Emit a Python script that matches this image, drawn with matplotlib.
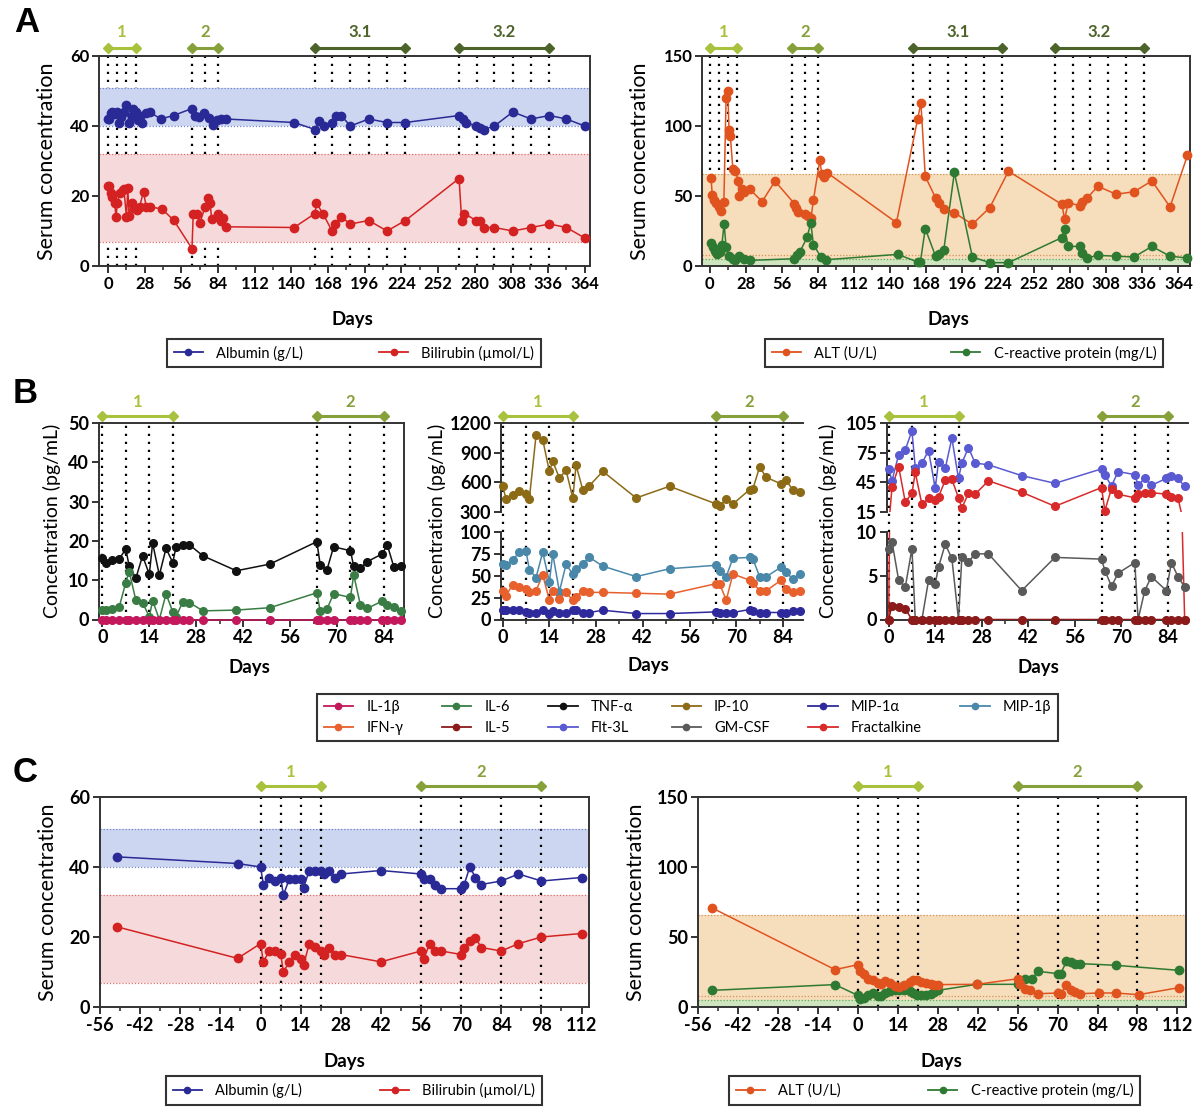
import matplotlib
matplotlib.use('Agg')
import matplotlib.pyplot as plt
import numpy as np
from matplotlib.transforms import blended_transform_factory
from matplotlib.ticker import MultipleLocator, FixedLocator
from matplotlib.lines import Line2D

plt.rcParams['font.family'] = ['Lato', 'DejaVu Sans']
plt.rcParams['font.weight'] = 'bold'
plt.rcParams['axes.unicode_minus'] = False

# ------------------------------------------------------------------ data
# Panel A (days 0-364)
a_alb_days = [0, 1, 2, 3, 5, 7, 8, 10, 12, 14, 16, 18, 19, 21, 23, 24, 26, 29, 32, 40, 50, 64, 66, 69, 73, 77, 80,
              83, 86, 90, 142, 158, 161, 165, 171, 174, 178, 185, 199, 213, 227, 268, 271, 273, 281, 284, 287, 295,
              309, 323, 337, 350, 364]
a_alb = [42, 42, 43.6, 44, 43.4, 44, 40.8, 42.7, 44, 46, 40.8, 43, 45, 44, 41.7, 43, 41, 43.6, 44, 42, 43, 45, 43,
         42.5, 43.6, 42.2, 40.3, 41.7, 42, 42, 41, 39, 41.5, 40, 41, 43, 43, 40, 42, 41, 41, 43, 42, 41, 40, 39.3,
         39, 40, 44, 42, 43, 42, 40]
a_bil_days = [0, 1, 2, 3, 5, 6, 7, 9, 11, 12, 14, 15, 16, 18, 20, 22, 24, 27, 29, 32, 41, 50, 64, 65, 68, 70, 74,
              76, 78, 79, 84, 86, 88, 90, 142, 158, 159, 164, 171, 173, 178, 185, 199, 213, 227, 268, 270, 272,
              281, 284, 287, 295, 309, 323, 337, 350, 364]
a_bil = [23, 23, 21, 19.8, 17.9, 14, 18, 21, 21.7, 22, 14, 22.2, 14.3, 17.9, 16.6, 16, 17, 21.2, 17, 16.9, 16.3,
         13.1, 5, 15, 15, 12.2, 16.9, 19.3, 17.9, 13.3, 15, 13, 13.6, 11.2, 11, 15, 18, 15, 10, 12, 14, 12, 13, 10,
         13, 25, 13, 15, 13, 13, 11, 11, 10, 11, 12, 11, 8]
a_alt_days = [1, 2, 3.5, 5, 7, 9, 11, 12.7, 14, 15, 16, 18, 20, 22, 23, 25, 26.5, 31, 40.7, 50.7, 65.7, 67, 68.7,
              73.7, 76.6, 78.7, 80.5, 85.5, 87, 88.4, 91.4, 145, 161.5, 164, 167.4, 175.4, 177.7, 181.8, 190, 204,
              217.5, 232, 273.5, 275.6, 278.5, 287.4, 289.4, 293.3, 301.5, 315.4, 329.5, 343.4, 357.5, 371]
a_alt = [63, 50.5, 47.5, 45, 42, 39, 46, 120, 125, 97, 93, 69, 68, 61, 50, 55, 53, 55, 46, 60.6, 44.6, 41.7, 38.6,
         37.4, 36, 34.6, 47, 75.6, 66, 63.7, 66.5, 31, 105, 116.6, 64, 48.7, 45, 41, 38, 29.8, 41.7, 67.7, 44, 33.4,
         45.3, 43, 45.8, 48.7, 57, 51.3, 53, 60.8, 42.2, 79]
a_crp_days = [1, 2.4, 3.8, 6, 8, 9.4, 11.2, 12.7, 14.7, 17.7, 19.7, 23, 26.5, 31, 65.7, 67.8, 70, 75.7, 78.5, 80.5,
              86.4, 90.5, 145.9, 161.5, 163.6, 167.4, 175.4, 177.7, 181.8, 190, 204, 217.5, 232, 273.5, 275.6,
              278.5, 287.4, 289.4, 293.3, 301.5, 315.4, 329.5, 343.4, 357.5, 371]
a_crp = [16.7, 13.6, 10.7, 8.3, 10, 14.8, 30.3, 13.6, 7, 5.2, 4.5, 7, 5.2, 4, 5.2, 7.6, 10, 20.7, 31, 15.3, 6.4,
         4.5, 8.3, 2.9, 2.9, 26.7, 7, 8.8, 11.7, 66.8, 6.4, 2.4, 2.4, 20.3, 26.2, 14, 14, 9.3, 5.7, 7.6, 7, 6.4,
         14, 7, 5.7]
a_lines = [0, 7, 14, 21, 64, 74, 84, 158, 171, 185, 199, 213, 227, 268, 282, 295, 309, 323, 337]
a_periods = ['1', '2', '3.1', '3.2']
a_period_span = [(0, 21), (64, 84), (158, 227), (268, 337)]

# Panel B (days 0-89)
b_days = [0, 1, 3, 5, 7, 8, 10, 12, 14, 15, 17, 19, 21, 22, 24, 26, 30, 40, 50, 64, 65, 67, 69, 74, 75, 77, 79,
          83.5, 85, 87, 89]
b_il1b = [0] * 31
b_il6 = [2.4, 2.4, 2.6, 3.1, 9.4, 12.2, 4.9, 4.3, 0.7, 4.8, 0, 6.5, 2, 0.7, 4.5, 4.3, 2.2, 2.4, 3, 6.8, 2.1, 2.6,
         6.6, 5.6, 11.3, 3.7, 2.8, 4.7, 3.7, 3.2, 2.1]
b_tnfa = [15.6, 14.5, 15.1, 15.4, 17.9, 13.6, 10.5, 16.2, 11.5, 19.4, 11.3, 18.1, 14.5, 18.5, 19, 19, 16.2, 12.4,
          14.1, 19.8, 13.9, 12.6, 18.5, 17.5, 13.6, 13, 14.7, 16.7, 19, 13.3, 13.7]
b_ip10 = [560, 435, 475, 509, 482, 435, 1075, 1031, 711, 812, 644, 721, 442, 772, 526, 566, 711, 442, 560, 381, 357,
          435, 381, 526, 536, 755, 650, 583, 620, 519, 502]
b_mip1b = [63, 62, 68, 77, 78, 57, 48, 77, 43, 75, 32, 63, 52, 58, 64, 71, 61, 49, 58, 62, 56, 49, 70, 71, 69, 49,
           49, 60, 54, 46, 52]
b_ifng = [33, 27, 40, 37, 35, 32, 33, 51, 22, 33, 24, 31, 22, 26, 33, 31, 31, 30, 29, 41, 41, 22, 52, 45, 42, 33,
          33, 45, 35, 32, 33]
b_mip1a = [11, 10.6, 11.4, 10.6, 8.7, 8, 8, 11.4, 6.8, 9.9, 8, 8, 11.4, 10.6, 8, 8, 10.6, 6.8, 6.8, 8.7, 8, 8, 8,
           11.4, 9.9, 8, 8, 8, 8, 9.5, 9.9]
b_flt3l = [58.6, 46.6, 73, 78, 97, 60, 64.5, 77, 39, 66, 59, 89.5, 49, 64.5, 80, 64.5, 62.7, 51.8, 44, 58.6, 52.4,
           41.4, 55.9, 52.8, 42, 49, 42, 49, 51.8, 49, 40.8]
b_fract = [0, 40, 61, 25, 34, 55, 22.6, 28.7, 27, 30.5, 47, 48, 29.4, 19, 34, 33, 46.6, 35, 20.8, 39.7, 16.4, 38.7,
           32.9, 29.4, 33, 34.6, 34.6, 33, 30.5, 28.7, 0]
b_gmcsf = [8.1, 8.9, 4.5, 3.7, 8.1, 0, 0, 4.5, 4.1, 6, 8.6, 7, 0, 7.1, 6.6, 7.5, 7.5, 3.3, 7.1, 6.9, 5.6, 3.8, 5.3,
           6.5, 0, 3.3, 4.9, 3.3, 6.5, 4.9, 3.7]
b_il5 = [0, 1.6, 1.4, 1.2] + [0] * 27
b_lines = [0, 7, 14, 21, 64, 74, 84]
b_periods = ['1', '2']
b_period_span = [(0, 21), (64, 84)]

# Panel C (days -56..112)
c_days = [-50, -8, 0, 1, 3, 5, 7, 8, 10, 12, 14, 15, 17, 19, 21, 22, 24, 26, 28, 42, 56, 57, 59, 61, 63, 70, 71, 73,
          75, 77, 84, 90, 98, 112]
c_alb = [42.9, 41, 40, 35, 37, 36, 37, 32, 36.5, 36.5, 36.5, 34, 39, 39, 39, 38, 39, 37, 38, 39, 38, 36.5, 36.5, 35,
         33.8, 33.8, 34.8, 40, 37, 35, 36, 38, 36, 37]
c_bil = [22.9, 13.9, 18.1, 12.9, 16, 16, 15.2, 10, 12.9, 15, 13.8, 11.9, 18.1, 17.1, 16, 15, 17, 15, 15, 12.9, 16,
         13.8, 18.1, 16, 16, 15, 17, 18.9, 19.8, 17, 16, 18.1, 20, 21]
c_alt_days = [-51, -8, 0, 0.6, 2, 3.5, 5.2, 6.9, 8.2, 9.7, 11.2, 13.2, 14.6, 16.2, 18.2, 19.2, 20.8, 22.2, 23.9,
              25.5, 26.8, 28.1, 41.8, 56.1, 56.8, 58.5, 60.5, 63.2, 70.1, 71.1, 73.1, 74.7, 76.1, 77.7, 84.4, 90.3,
              98.4, 112.4]
c_alt = [70.7, 26.7, 30.2, 25.5, 23.8, 20.2, 19, 17.4, 16.7, 18.3, 17.1, 14.8, 14.3, 15.5, 17.9, 19, 19, 17.9, 17.1,
         16.2, 16, 16, 16.2, 20.2, 16.2, 13.1, 11.9, 9.5, 10, 9.5, 15.5, 12.4, 10.7, 9.5, 10, 10, 8.8, 13.8]
c_crp_days = [-51, -8, 0, 0.6, 2, 3.5, 5.2, 6.9, 8.2, 9.7, 11.2, 13.2, 14.6, 16.2, 18.2, 19.2, 20.8, 22.2, 23.9,
              25.5, 26.8, 28.1, 41.8, 56.1, 58.5, 61, 63.2, 70.1, 71.1, 73.1, 74.7, 76.1, 77.7, 90.3, 112.4]
c_crp = [11.9, 16, 8.3, 6, 6.7, 8.3, 10.2, 7.9, 7.9, 10.2, 11.4, 11.9, 12.4, 11.9, 11.4, 10.2, 8.3, 8.3, 8.3, 9.5,
         10.7, 11.9, 16.2, 16.2, 19.8, 20.2, 25.5, 23.8, 23.8, 32.6, 32.1, 31, 31, 29.8, 26.2]
c_lines = [0, 7, 14, 21, 56, 70, 84, 98]
c_periods = ['1', '2']
c_period_span = [(0, 21), (56, 98)]

# ------------------------------------------------------------------ styling
C_ALB = '#2a2a96'
C_BIL = '#d42222'
C_ALT = '#e0531f'
C_CRP = '#2f7a32'
C_IL1B = '#c4185c'
C_IL6 = '#3a7d44'
C_TNF = '#111111'
C_IP10 = '#8c6a16'
C_MIP1A = '#2e2a9c'
C_MIP1B = '#4a88aa'
C_IFNG = '#e8602c'
C_IL5 = '#8b1a1a'
C_FLT = '#5a5ad2'
C_GM = '#5a5a5a'
C_FRAC = '#d82a2a'
P_COL = {'1': '#a8c23e', '2': '#86a03a', '3.1': '#4c6329', '3.2': '#4c6329'}
SPC = '#333333'

W, H = 1194, 1108
fig = plt.figure(figsize=(W / 100, H / 100), dpi=100)


def add_ax(l, r, t, b):
    return fig.add_axes([l / W, 1 - b / H, (r - l) / W, (b - t) / H])


def style_ax(ax, xmaj, xmin, lsize):
    for s in ax.spines.values():
        s.set_linewidth(1.4)
        s.set_color(SPC)
    ax.xaxis.set_major_locator(MultipleLocator(xmaj))
    ax.xaxis.set_minor_locator(MultipleLocator(xmin))
    ax.tick_params(which='major', length=5, width=1.4, color=SPC, labelsize=lsize, pad=2)
    ax.tick_params(which='minor', length=3, width=1.2, color=SPC)
    ax.tick_params(axis='y', which='minor', left=False)
    ax.patch.set_alpha(0)


def series(ax, x, y, color, ms, ylim=None, clip=False, z=3):
    x = np.asarray(x, float)
    y = np.asarray(y, float)
    ax.plot(x, y, '-', color=color, lw=1.1, zorder=z, clip_on=clip)
    if ylim is None:
        m = np.ones(len(y), bool)
    else:
        m = (y >= ylim[0]) & (y <= ylim[1])
    ax.plot(x[m], y[m], 'o', ls='none', color=color, ms=ms, zorder=z + 0.05, clip_on=False)


def band(ax, lo, hi, fill, edge, z=1.5, fill_lo=None):
    ax.axhspan(lo if fill_lo is None else fill_lo, hi, facecolor=fill, edgecolor='none', zorder=z)
    for v in (lo, hi):
        ax.axhline(v, color=edge, lw=0.9, ls=(0, (1, 1.5)), zorder=z + 0.1)


def vlines(ax, days, z, ext=0.0):
    for d in days:
        ax.axvline(d, ymin=-ext, ymax=1, color='black', lw=1.6, ls=(0, (1, 2.6)), zorder=z, clip_on=False)


def brackets(ax, names, spans, yb, yl, fs):
    tr = blended_transform_factory(ax.transData, fig.transFigure)
    for n, (x0, x1) in zip(names, spans):
        c = P_COL[n]
        ax.plot([x0, x1], [yb, yb], color=c, lw=2.2, marker='D', ms=5, transform=tr, clip_on=False)
        ax.text((x0 + x1) / 2, yl, n, transform=tr, ha='center', va='center', color=c,
                fontsize=fs, fontweight='bold')


def ylabel(x, y, s, fs):
    fig.text(x / W, 1 - y / H, s, rotation=90, ha='center', va='center', fontsize=fs, fontweight='normal')


def xlabel(x, y, s, fs=13.5):
    fig.text(x / W, 1 - y / H, s, ha='center', va='center', fontsize=fs, fontweight='bold')


def legend(ax, items, l, r, t, b, ncol, fs=10.5):
    hs = [Line2D([], [], color=c, marker='o', ms=4.5, lw=1.3) for _, c in items]
    leg = ax.legend(hs, [s for s, _ in items], loc='center', ncol=ncol, mode='expand',
                    bbox_to_anchor=(l / W, 1 - b / H, (r - l) / W, (b - t) / H), bbox_transform=fig.transFigure,
                    frameon=True, fancybox=False, edgecolor='black', handlelength=2.0, handletextpad=0.9,
                    borderpad=0.45, labelspacing=0.45, prop={'size': fs, 'weight': 'normal'})
    leg.get_frame().set_linewidth(1.5)
    return leg


# ------------------------------------------------------------------ panel A
axA1 = add_ax(99, 590, 56, 266)
axA1.set_xlim(-7, 368)
axA1.set_ylim(0, 60)
style_ax(axA1, 28, 14, 12)
axA1.yaxis.set_major_locator(MultipleLocator(20))
vlines(axA1, a_lines, 1)
band(axA1, 40, 51, '#cdd6f1', '#7386cc')
band(axA1, 7, 32, '#f6dadb', '#e07070')
series(axA1, a_alb_days, a_alb, C_ALB, 6)
series(axA1, a_bil_days, a_bil, C_BIL, 6)
brackets(axA1, a_periods, a_period_span, 1 - 47.5 / H, 1 - 32 / H, 12)
ylabel(47, 161, 'Serum concentration', 15.5)
xlabel(352, 320, 'Days')
legend(axA1, [('Albumin (g/L)', C_ALB), ('Bilirubin (\u00b5mol/L)', C_BIL)], 160, 548, 338, 368, 2)

axA2 = add_ax(702, 1190, 56, 266)
axA2.set_xlim(-6, 373)
axA2.set_ylim(0, 150)
style_ax(axA2, 28, 14, 12)
axA2.yaxis.set_major_locator(MultipleLocator(50))
vlines(axA2, a_lines, 1)
band(axA2, 8, 66, '#f6ddbb', '#d0955a', fill_lo=0)
band(axA2, 0, 5, '#cfe5c0', '#6aaa5a', z=1.7)
series(axA2, a_alt_days, a_alt, C_ALT, 6)
series(axA2, a_crp_days, a_crp, C_CRP, 6)
brackets(axA2, a_periods, a_period_span, 1 - 47.5 / H, 1 - 32 / H, 12)
ylabel(640, 161, 'Serum concentration', 15.5)
xlabel(948, 320, 'Days')
legend(axA2, [('ALT (U/L)', C_ALT), ('C-reactive protein (mg/L)', C_CRP)], 758, 1170, 338, 368, 2)

# ------------------------------------------------------------------ panel B
BT, BB = 423, 619.5
GAP_T, GAP_B = 512, 532

axB1 = add_ax(99, 404, BT, BB)
axB1.set_xlim(-1, 90)
axB1.set_ylim(0, 50)
style_ax(axB1, 14, 7, 13)
axB1.yaxis.set_major_locator(MultipleLocator(10))
vlines(axB1, b_lines, 1)
series(axB1, b_days, b_tnfa, C_TNF, 5.5)
series(axB1, b_days, b_il6, C_IL6, 5.5)
series(axB1, b_days, b_il1b, C_IL1B, 5.5)
brackets(axB1, b_periods, b_period_span, 1 - 416 / H, 1 - 402 / H, 12)
ylabel(52, 521, 'Concentration (pg/mL)', 14)
xlabel(249, 668, 'Days')


def broken(l, r, xl, top_lim, top_ticks, bot_lim, bot_ticks, top_series, bot_series):
    axt = add_ax(l, r, BT, GAP_T)
    axb = add_ax(l, r, GAP_B, BB)
    for ax in (axt, axb):
        ax.set_xlim(*xl)
        style_ax(ax, 14, 7, 13)
        ax.spines['right'].set_visible(False)
    axt.set_ylim(*top_lim)
    axb.set_ylim(*bot_lim)
    axt.yaxis.set_major_locator(FixedLocator(top_ticks))
    axb.yaxis.set_major_locator(FixedLocator(bot_ticks))
    axt.spines['bottom'].set_visible(False)
    axt.tick_params(axis='x', which='both', bottom=False, labelbottom=False)
    axb.spines['top'].set_visible(False)
    ext = (GAP_B - GAP_T) / (GAP_T - BT)
    vlines(axt, b_lines, 1, ext=ext)
    vlines(axb, b_lines, 1)
    for ys, c in top_series + bot_series:
        series(axt, b_days, ys, c, 5.5, ylim=top_lim, clip=True)
        series(axb, b_days, ys, c, 5.5, ylim=bot_lim, clip=True)
    return axt, axb


axB2t, axB2b = broken(501, 803, (-0.5, 90), (300, 1200), [300, 600, 900, 1200], (0, 100), [0, 25, 50, 75, 100],
                      [(b_ip10, C_IP10)],
                      [(b_mip1b, C_MIP1B), (b_ifng, C_IFNG), (b_mip1a, C_MIP1A)])
brackets(axB2t, b_periods, b_period_span, 1 - 416 / H, 1 - 402 / H, 12)
ylabel(437, 521, 'Concentration (pg/mL)', 14)
xlabel(648, 666, 'Days')

axB3t, axB3b = broken(887, 1188, (-0.5, 90), (15, 105), [15, 45, 75, 105], (0, 10), [0, 5, 10],
                      [(b_flt3l, C_FLT), (b_fract, C_FRAC)],
                      [(b_gmcsf, C_GM), (b_il5, C_IL5)])
brackets(axB3t, b_periods, b_period_span, 1 - 416 / H, 1 - 402 / H, 12)
ylabel(828, 521, 'Concentration (pg/mL)', 14)
xlabel(1038, 667, 'Days')

b_items = [('IL-1\u03b2', C_IL1B), ('IFN-\u03b3', C_IFNG), ('IL-6', C_IL6), ('IL-5', C_IL5),
           ('TNF-\u03b1', C_TNF), ('Flt-3L', C_FLT), ('IP-10', C_IP10), ('GM-CSF', C_GM),
           ('MIP-1\u03b1', C_MIP1A), ('Fractalkine', C_FRAC), ('MIP-1\u03b2', C_MIP1B)]
legend(axB1, b_items, 310, 1065, 688, 747, 6)

# ------------------------------------------------------------------ panel C
axC1 = add_ax(100, 589, 797, 1007)
axC1.set_xlim(-56, 114.6)
axC1.set_ylim(0, 60)
style_ax(axC1, 14, 7, 13)
axC1.yaxis.set_major_locator(MultipleLocator(20))
band(axC1, 40, 51, '#cdd6f1', '#7386cc')
band(axC1, 7, 32, '#f6dadb', '#e07070')
vlines(axC1, c_lines, 2.5)
series(axC1, c_days, c_alb, C_ALB, 6)
series(axC1, c_days, c_bil, C_BIL, 6)
brackets(axC1, c_periods, c_period_span, 1 - 786 / H, 1 - 772 / H, 12)
ylabel(48, 902, 'Serum concentration', 15.5)
xlabel(344, 1062, 'Days')
legend(axC1, [('Albumin (g/L)', C_ALB), ('Bilirubin (\u00b5mol/L)', C_BIL)], 159, 549, 1075, 1106, 2)

axC2 = add_ax(698, 1186, 797, 1007)
axC2.set_xlim(-56, 115)
axC2.set_ylim(0, 150)
style_ax(axC2, 14, 7, 13)
axC2.yaxis.set_major_locator(MultipleLocator(50))
band(axC2, 8, 66, '#f6ddbb', '#d0955a', fill_lo=0)
band(axC2, 0, 5, '#cfe5c0', '#6aaa5a', z=1.7)
vlines(axC2, c_lines, 2.5)
series(axC2, c_crp_days, c_crp, C_CRP, 6)
series(axC2, c_alt_days, c_alt, C_ALT, 6)
brackets(axC2, c_periods, c_period_span, 1 - 786 / H, 1 - 772 / H, 12)
ylabel(636, 902, 'Serum concentration', 15.5)
xlabel(941, 1062, 'Days')
legend(axC2, [('ALT (U/L)', C_ALT), ('C-reactive protein (mg/L)', C_CRP)], 722, 1147, 1075, 1106, 2)

# panel letters
for s, (x, y) in zip('ABC', [(27, 22), (25, 394), (25, 772)]):
    fig.text(x / W, 1 - y / H, s, ha='center', va='center', fontsize=25, fontweight='bold',
             family=['Liberation Sans', 'DejaVu Sans'])

fig.savefig('out.png', dpi=100)
